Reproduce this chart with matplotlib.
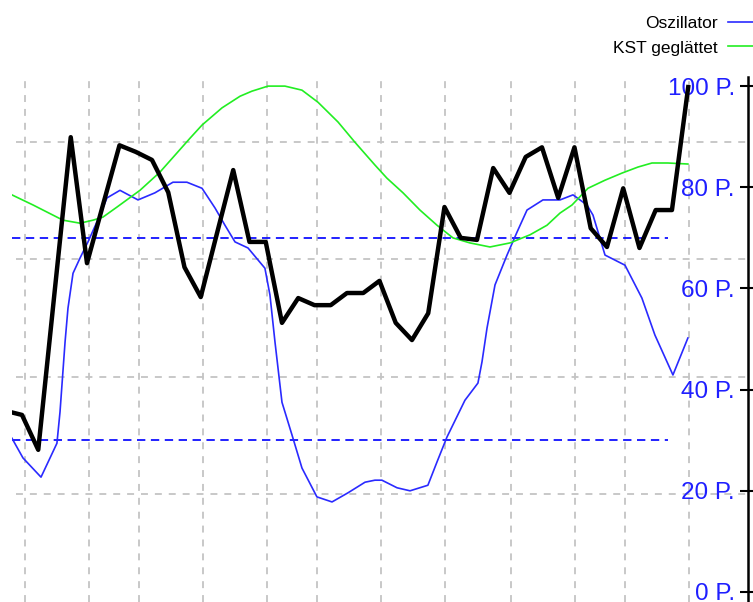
import matplotlib
matplotlib.use("Agg")
import matplotlib.pyplot as plt
import numpy as np

plt.rcParams["font.family"] = ["Liberation Sans", "DejaVu Sans"]
plt.rcParams["lines.scale_dashes"] = False

# ── Data (x in weeks, y in oscillator points) ─────────────────────────────────

price_weeks = list(range(-1, 42))
price_pts = [35.8, 35.0, 28.1, 59.1, 89.9, 65.0, 76.7, 88.3, 87.0, 85.4,
             79.0, 64.2, 58.3, 70.9, 83.4, 69.2, 69.2, 53.2, 58.1, 56.7,
             56.7, 59.1, 59.1, 61.5, 53.2, 49.8, 55.1, 76.1, 70.0, 69.6,
             83.8, 78.9, 86.0, 87.9, 77.9, 87.9, 71.9, 68.2, 79.8, 68.0,
             75.5, 75.5, 99.8]

osc_weeks = [-0.62, 0.06, 1.17, 2.15, 2.34, 2.65, 2.83, 3.14, 3.57, 4.06,
             4.8, 5.23, 6.03, 7.14, 8.18, 9.29, 10.15, 11.08, 11.88, 12.49,
             13.11, 13.91, 14.95, 15.26, 15.57, 16.0, 16.62, 17.23, 18.15, 19.08,
             20.06, 21.11, 21.72, 22.15, 23.08, 23.88, 24.98, 25.54, 26.15, 27.26,
             28.06, 28.31, 28.62, 29.11, 29.85, 30.46, 31.08, 32.06, 33.11, 33.91,
             34.77, 35.14, 35.88, 37.11, 38.15, 38.95, 40.06, 40.98]
osc_pts = [30.4, 26.5, 22.7, 29.4, 35.6, 49.4, 56.1, 63.0, 66.0, 69.2,
           74.5, 77.9, 79.4, 77.5, 78.9, 81.0, 81.0, 79.8, 75.9, 72.5,
           69.2, 68.0, 64.0, 58.7, 49.4, 37.5, 31.0, 24.5, 18.8, 17.8,
           19.6, 21.7, 22.1, 22.1, 20.6, 20.0, 21.1, 25.7, 30.6, 37.9,
           41.3, 45.5, 52.2, 60.7, 66.6, 71.1, 75.5, 77.5, 77.5, 78.5,
           76.5, 74.5, 66.6, 64.6, 58.1, 50.8, 42.9, 50.2]

kst_weeks = [-0.62, 0.68, 2.52, 3.57, 4.37, 4.98, 5.85, 7.26, 8.49, 9.54,
             10.34, 11.08, 12.31, 13.42, 14.15, 15.14, 16.18, 17.23, 18.22, 19.45,
             20.49, 21.72, 22.46, 23.45, 24.49, 25.54, 26.52, 27.57, 28.8, 30.03,
             31.26, 32.31, 33.11, 33.85, 34.83, 35.88, 36.92, 37.91, 38.77, 39.75,
             40.98]
kst_pts = [78.5, 76.5, 73.5, 72.9, 73.5, 74.1, 76.1, 79.4, 83.0, 86.8,
           89.7, 92.3, 95.7, 98.0, 99.0, 100.0, 100.0, 99.2, 96.8, 92.9,
           88.9, 84.4, 81.8, 78.9, 75.5, 72.5, 70.0, 69.0, 68.2, 69.0,
           70.6, 72.5, 74.9, 76.5, 79.8, 81.4, 82.8, 84.0, 84.8, 84.8,
           84.6]

month_starts = [0.18, 4.12, 7.2, 11.14, 15.08, 18.15, 22.09, 26.03, 30.09, 34.03, 37.11, 41.05]
price_grid = [19.4, 42.5, 65.8, 89.0]
levels = [30, 70]
level_end = 39.75
right_ticks = [0, 20, 40, 60, 80, 100]

BLUE = "#2a2aff"
GREEN = "#22ee22"
GRID = "#c4c4c4"

# ── Figure ────────────────────────────────────────────────────────────────────

fig = plt.figure(figsize=(7.53, 6.02), dpi=100)
ax = fig.add_axes([12 / 753, 0.0, (748 - 12) / 753, 1 - 77 / 602])

ax.set_xlim(-0.615, 44.68)
ax.set_ylim(-1.98, 101.8)

# grid (monthly verticals, hidden price-axis horizontals)
for xv in month_starts:
    ax.axvline(xv, color=GRID, lw=1.3, dashes=(5, 5), zorder=0)
for yv in price_grid:
    ax.axhline(yv, xmin=0.005, color=GRID, lw=1.3, dashes=(5, 5), zorder=0)

ax.hlines(levels, -0.615, level_end, color="#1010ff", lw=1.3,
          linestyle=(0, (6, 4)), zorder=1)

ax.plot(osc_weeks, osc_pts, color=BLUE, lw=1.2, zorder=2, label="Oszillator")
ax.plot(kst_weeks, kst_pts, color=GREEN, lw=1.2, zorder=3, label="KST geglättet")
ax.plot(price_weeks, price_pts, color="black", lw=3.2, zorder=4)

for side in ["left", "top", "bottom"]:
    ax.spines[side].set_visible(False)
ax.spines["right"].set_linewidth(1.8)
ax.set_xticks([])
ax.yaxis.tick_right()
ax.set_yticks(right_ticks)
ax.set_yticklabels([f"{v} P." for v in right_ticks])
ax.tick_params(axis="y", direction="inout", length=12, width=1.5,
               pad=-15.5, labelsize=17.5, labelcolor="#1f1fff")
for lbl in ax.get_yticklabels():
    lbl.set_horizontalalignment("right")

fig.legend(loc="upper right", bbox_to_anchor=(1.007, 0.982), markerfirst=False,
           frameon=False, fontsize=12.5, handlelength=1.45, handletextpad=0.6,
           labelspacing=0.53, borderaxespad=0.0, borderpad=0.3)

fig.savefig("out.png", dpi=100)
